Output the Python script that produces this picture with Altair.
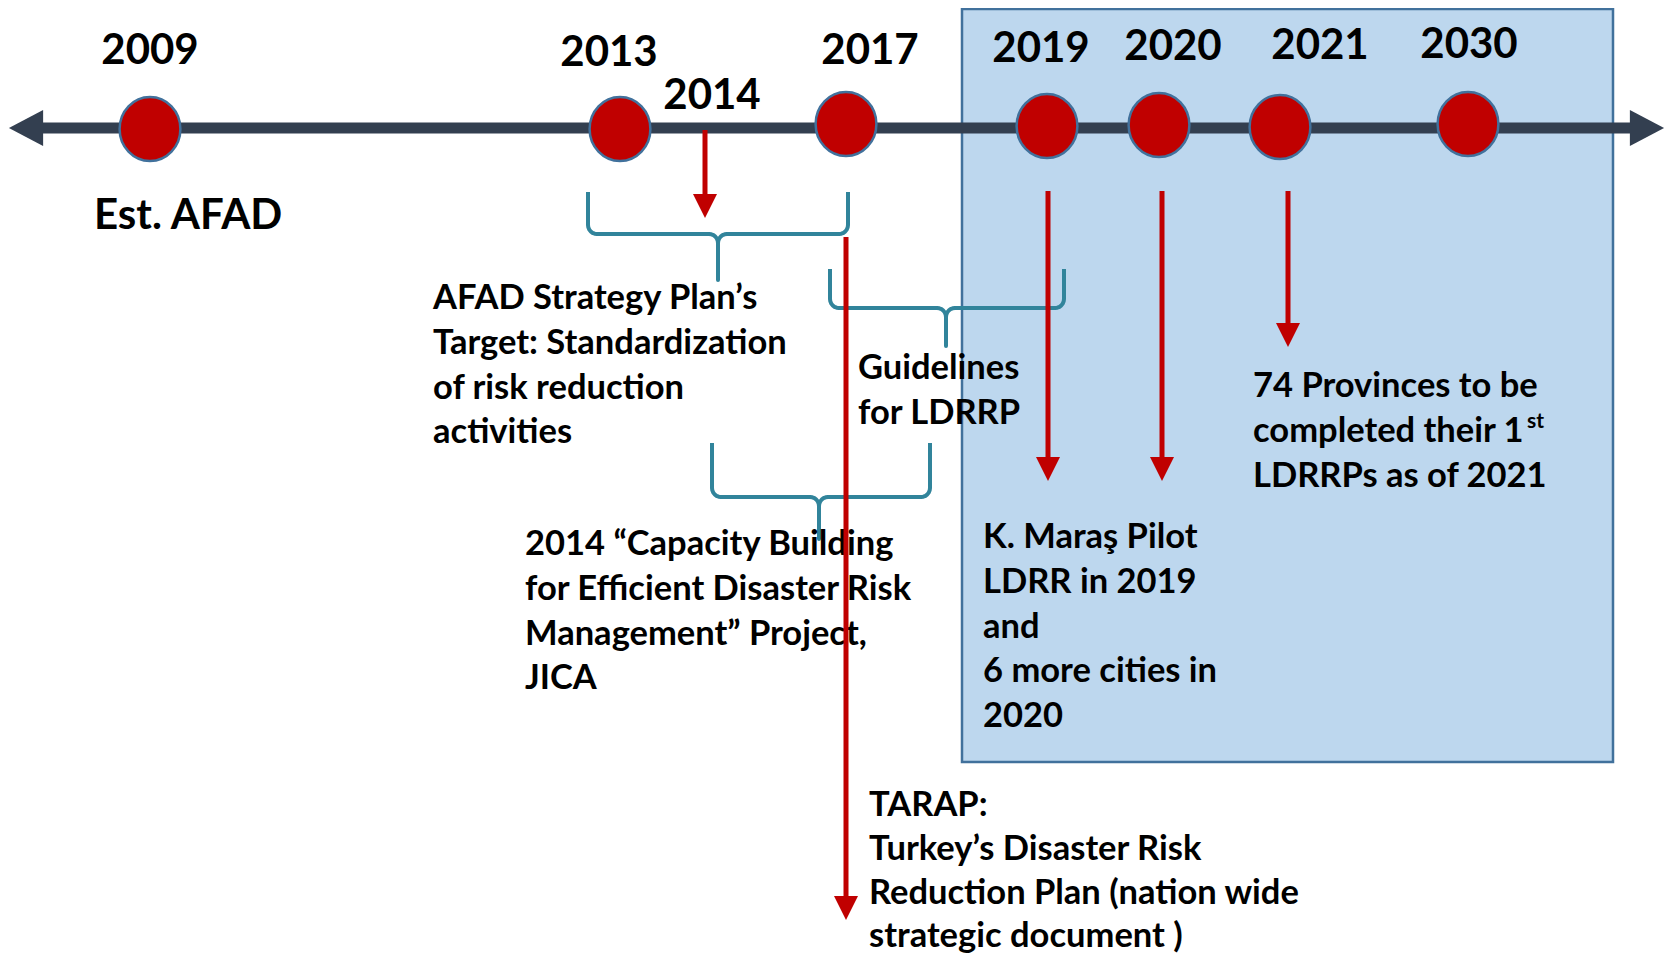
import math
import altair as alt
import pandas as pd

# ---------------- data ----------------
years = ["2009", "2013", "2014", "2017", "2019", "2020", "2021", "2030"]
milestones = ["2009", "2013", "2017", "2019", "2020", "2021", "2030"]
arrow_years = ["2014", "2017", "2019", "2020", "2021"]
est_label = ["Est. AFAD"]
strategy_lines = ["AFAD Strategy Plan\u2019s", "Target: Standardization", "of risk reduction", "activities"]
guideline_lines = ["Guidelines", "for LDRRP"]
jica_lines = ["2014 \u201cCapacity Building", "for Efficient Disaster Risk", "Management\u201d Project,", "JICA"]
maras_lines = ["K. Mara\u015f Pilot", "LDRR in 2019", "and", "6 more cities in", "2020"]
province_lines = ["74 Provinces to be", "completed their 1", "LDRRPs as of 2021"]
province_sup = ["st"]
tarap_lines = ["TARAP:", "Turkey\u2019s Disaster Risk", "Reduction Plan (nation wide", "strategic document )"]

# ---------------- layout (pixel positions in the 1673x964 frame) ----------------
label_pos = {"2009": (150, 51), "2013": (609, 53), "2014": (712, 96), "2017": (870, 51),
             "2019": (1041, 49), "2020": (1173, 47), "2021": (1320, 46), "2030": (1469, 45)}
circle_pos = {"2009": (150, 129), "2013": (620, 129), "2017": (846, 124), "2019": (1047, 126),
              "2020": (1159, 125), "2021": (1280, 127), "2030": (1468, 124)}
arrow_geom = {"2014": (705, 130, 218), "2017": (846, 237, 920), "2019": (1048, 191, 481),
              "2020": (1162, 191, 481), "2021": (1288, 191, 347)}
brace_geom = [(588, 848, 192, 234, 718, 280), (830, 1064, 269, 308, 946, 346),
              (712, 930, 443, 497, 819, 539)]
# (lines, left x, first line centre y, line gap)
text_blocks = [(strategy_lines, 433, 299, 44.8), (guideline_lines, 858, 369, 44.8),
               (jica_lines, 525, 545, 44.8), (maras_lines, 983, 538, 44.8),
               (province_lines, 1253, 387, 44.8), (tarap_lines, 869, 806, 43.8)]
est_pos = (94, 216)
sup_pos = (1527, 422)
TIMELINE_Y = 128
box_geom = (962, 1613, 9, 762)

W, H = 1657, 948
xs = alt.Scale(domain=[8, 8 + W], nice=False, zero=False)
ys = alt.Scale(domain=[8, 8 + H], nice=False, zero=False, reverse=True)


def X(f="x"):
    return alt.X(f"{f}:Q", scale=xs, axis=None)


def Y(f="y"):
    return alt.Y(f"{f}:Q", scale=ys, axis=None)


FONT = "Lato"
RED = "#C00000"
NAVY = "#333F50"
TEAL = "#31849B"
EDGE = "#41719C"

ELLIPSE = ("M 0,-1 C 0.5246,-1 0.95,-0.5523 0.95,0 C 0.95,0.5523 0.5246,1 0,1 "
           "C -0.5246,1 -0.95,0.5523 -0.95,0 C -0.95,-0.5523 -0.5246,-1 0,-1 Z")
TRI_DOWN = "M -1,-1 L 1,-1 L 0,1 Z"
TRI_LEFT = "M 0.95,-1 L -0.95,0 L 0.95,1 Z"
TRI_RIGHT = "M -0.95,-1 L 0.95,0 L -0.95,1 Z"

# background box
box_df = pd.DataFrame([dict(x=box_geom[0], x2=box_geom[1], y=box_geom[2], y2=box_geom[3])])
box = alt.Chart(box_df).mark_rect(fill="#BDD7EE", stroke=EDGE, strokeWidth=2.5).encode(
    x=X(), x2="x2:Q", y=Y(), y2="y2:Q")

# timeline
tl_df = pd.DataFrame([dict(x=30, x2=1645, y=TIMELINE_Y)])
timeline = alt.Chart(tl_df).mark_rule(color=NAVY, strokeWidth=11).encode(x=X(), x2="x2:Q", y=Y())
tl_left = alt.Chart(pd.DataFrame([dict(x=26, y=TIMELINE_Y)])).mark_point(
    shape=TRI_LEFT, filled=True, color=NAVY, size=36 * 36, opacity=1).encode(x=X(), y=Y())
tl_right = alt.Chart(pd.DataFrame([dict(x=1647, y=TIMELINE_Y)])).mark_point(
    shape=TRI_RIGHT, filled=True, color=NAVY, size=36 * 36, opacity=1).encode(x=X(), y=Y())

# milestone circles
circ_df = pd.DataFrame([dict(year=yr, x=circle_pos[yr][0], y=circle_pos[yr][1]) for yr in milestones])
circles = alt.Chart(circ_df).mark_point(
    shape=ELLIPSE, filled=True, fill=RED, stroke=EDGE, strokeWidth=2.5, size=64 * 64, opacity=1
).encode(x=X(), y=Y())

# year labels
lab_df = pd.DataFrame([dict(t=yr, x=label_pos[yr][0], y=label_pos[yr][1]) for yr in years])
year_labels = alt.Chart(lab_df).mark_text(
    align="center", baseline="middle", font=FONT, fontWeight="bold", fontSize=42, color="black"
).encode(x=X(), y=Y(), text="t:N")

est_df = pd.DataFrame([dict(t=est_label[0], x=est_pos[0], y=est_pos[1])])
est = alt.Chart(est_df).mark_text(
    align="left", baseline="middle", font=FONT, fontWeight="bold", fontSize=42, color="black"
).encode(x=X(), y=Y(), text="t:N")


# braces
def brace_points(L, R, top, h, C, tip, r=9, n=6):
    pts = [(L, top), (L, h - r)]
    for k in range(1, n + 1):
        t = math.radians(180 - 90 * k / n)
        pts.append((L + r + r * math.cos(t), h - r + r * math.sin(t)))
    pts.append((C - r, h))
    for k in range(1, n + 1):
        t = math.radians(-90 + 90 * k / n)
        pts.append((C - r + r * math.cos(t), h + r + r * math.sin(t)))
    pts.append((C, tip))
    pts.append((C, h + r))
    for k in range(1, n + 1):
        t = math.radians(180 + 90 * k / n)
        pts.append((C + r + r * math.cos(t), h + r + r * math.sin(t)))
    pts.append((R - r, h))
    for k in range(1, n + 1):
        t = math.radians(90 - 90 * k / n)
        pts.append((R - r + r * math.cos(t), h - r + r * math.sin(t)))
    pts.append((R, top))
    return pts


rows = []
for bi, g in enumerate(brace_geom):
    for oi, (px, py) in enumerate(brace_points(*g)):
        rows.append(dict(b=bi, o=oi, x=px, y=py))
br_df = pd.DataFrame(rows)
braces = alt.Chart(br_df).mark_line(color=TEAL, strokeWidth=4, strokeJoin="round", strokeCap="butt").encode(
    x=X(), y=Y(), detail="b:N", order="o:Q")

# text blocks
trows = []
for lines, x0, y0, gap in text_blocks:
    for i, line in enumerate(lines):
        trows.append(dict(t=line, x=x0, y=y0 + i * gap))
txt_df = pd.DataFrame(trows)
texts = alt.Chart(txt_df).mark_text(
    align="left", baseline="middle", font=FONT, fontWeight="bold", fontSize=34.5, color="black"
).encode(x=X(), y=Y(), text="t:N")
sup = alt.Chart(pd.DataFrame([dict(t=province_sup[0], x=sup_pos[0], y=sup_pos[1])])).mark_text(
    align="left", baseline="middle", font=FONT, fontWeight="bold", fontSize=21, color="black"
).encode(x=X(), y=Y(), text="t:N")

# red arrows
HEAD = 24
ar_df = pd.DataFrame([dict(year=yr, x=arrow_geom[yr][0], y=arrow_geom[yr][1],
                           y2=arrow_geom[yr][2] - HEAD + 4, yh=arrow_geom[yr][2] - HEAD / 2)
                      for yr in arrow_years])
shafts = alt.Chart(ar_df).mark_rule(color=RED, strokeWidth=5).encode(x=X(), y=Y(), y2="y2:Q")
heads = alt.Chart(ar_df).mark_point(shape=TRI_DOWN, filled=True, color=RED, size=HEAD * HEAD, opacity=1).encode(
    x=X(), y=Y("yh"))

chart = alt.layer(
    box, timeline, tl_left, tl_right, circles, braces, year_labels, est, texts, sup, shafts, heads
).properties(
    width=W, height=H, padding=0,
    autosize=alt.AutoSizeParams(type="none"),
).configure_view(stroke=None)

chart.save("out.html", embed_options={"renderer": "svg", "actions": False})
